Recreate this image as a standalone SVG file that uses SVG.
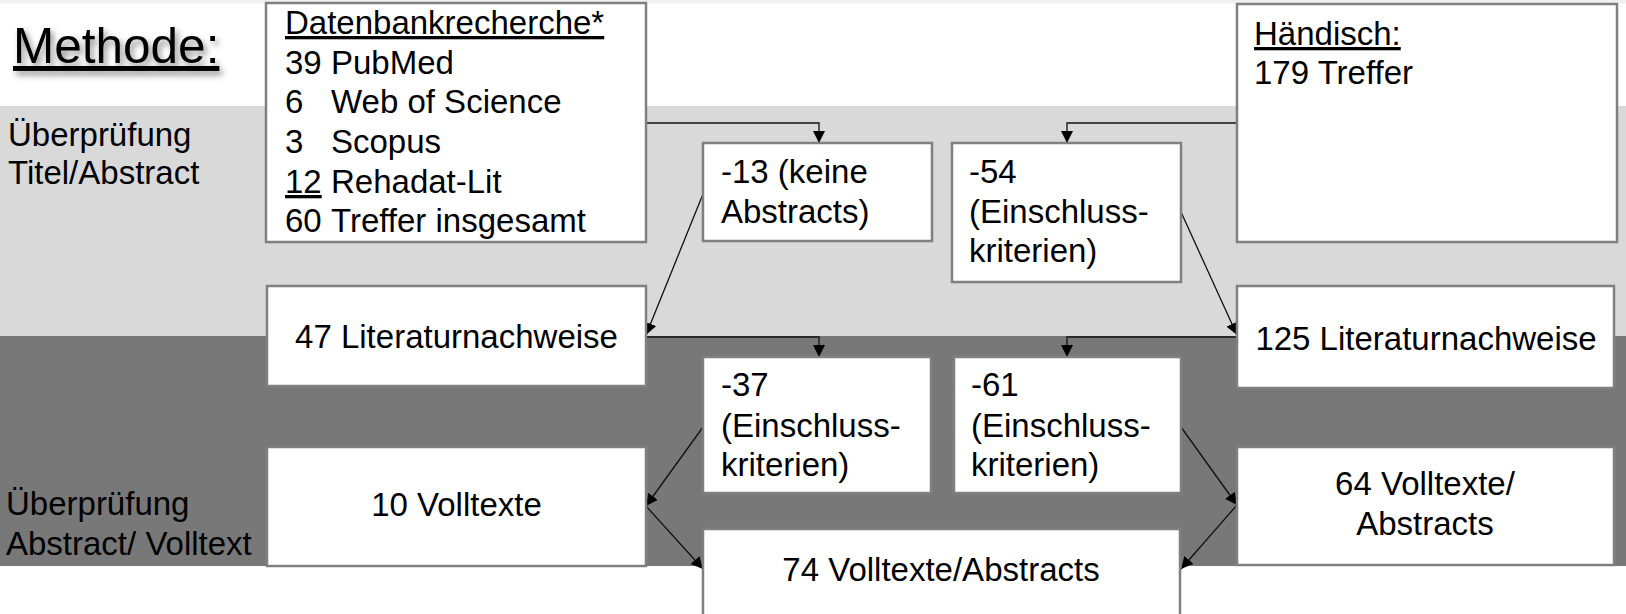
<svg xmlns="http://www.w3.org/2000/svg" width="1626" height="614" viewBox="0 0 1626 614">
<style>
text{font-family:"Liberation Sans",Arial,sans-serif;font-size:33px;fill:#000}
.box{fill:#fff;stroke:#808080;stroke-width:2.5}
.c{text-anchor:middle}
.u{text-decoration:underline}
.con{fill:none;stroke:#111;stroke-width:1.3}
</style>
<defs>
<marker id="arr" viewBox="0 0 12 12" refX="12" refY="6" markerWidth="12" markerHeight="12" markerUnits="userSpaceOnUse" orient="auto">
<path d="M0,0 L12,6 L0,12 z" fill="#000"/>
</marker>
<filter id="sh" x="-10%" y="-20%" width="130%" height="160%">
<feDropShadow dx="3" dy="4" stdDeviation="3" flood-color="#000" flood-opacity="0.45"/>
</filter>
</defs>
<g id="background">
<rect x="0" y="0" width="1626" height="614" fill="#fff"/>
<rect x="0" y="0" width="1626" height="3.5" fill="#f0f0f0"/>
<rect x="0" y="106" width="1626" height="230" fill="#d9d9d9"/>
<rect x="0" y="336" width="1626" height="230" fill="#787878"/>
</g>
<g id="labels">
<text x="13" y="63" style="font-size:49.5px" class="u" filter="url(#sh)">Methode:</text>
<text x="8" y="146">Überprüfung</text>
<text x="8" y="184">Titel/Abstract</text>
<text x="6" y="515">Überprüfung</text>
<text x="6" y="555">Abstract/ Volltext</text>
</g>
<g id="connectors">
<path class="con" d="M646,123 H819 V143" marker-end="url(#arr)"/>
<path class="con" d="M1237,123 H1067 V143" marker-end="url(#arr)"/>
<path class="con" d="M703,194 L646,335" marker-end="url(#arr)"/>
<path class="con" d="M1181,212 L1237,335" marker-end="url(#arr)"/>
<path class="con" d="M646,337 H819 V357" marker-end="url(#arr)"/>
<path class="con" d="M1237,337 H1067 V357" marker-end="url(#arr)"/>
<path class="con" d="M703,427 L646,506" marker-end="url(#arr)"/>
<path class="con" d="M646,506 L703,569" marker-end="url(#arr)"/>
<path class="con" d="M1181,427 L1237,505" marker-end="url(#arr)"/>
<path class="con" d="M1237,505 L1181,569" marker-end="url(#arr)"/>
</g>
<g id="datenbank">
<rect class="box" x="266" y="3" width="380" height="239"/>
<text x="285" y="34" class="u">Datenbankrecherche*</text>
<text x="285" y="74">39<tspan x="331">PubMed</tspan></text>
<text x="285" y="113">6<tspan x="331">Web of Science</tspan></text>
<text x="285" y="153">3<tspan x="331">Scopus</tspan></text>
<text x="285" y="193"><tspan class="u">12</tspan><tspan x="331">Rehadat-Lit</tspan></text>
<text x="285" y="232">60<tspan x="331">Treffer insgesamt</tspan></text>
</g>
<g id="haendisch">
<rect class="box" x="1237" y="4" width="380" height="238"/>
<text x="1254" y="45" class="u">Händisch:</text>
<text x="1254" y="84">179 Treffer</text>
</g>
<g id="minus13">
<rect class="box" x="703" y="143" width="229" height="98"/>
<text x="721" y="183">-13 (keine</text>
<text x="721" y="223">Abstracts)</text>
</g>
<g id="minus54">
<rect class="box" x="952" y="143" width="229" height="139"/>
<text x="969" y="183">-54</text>
<text x="969" y="223">(Einschluss-</text>
<text x="969" y="262">kriterien)</text>
</g>
<g id="lit47">
<rect class="box" x="267" y="286" width="379" height="100"/>
<text x="456.5" y="348" class="c">47 Literaturnachweise</text>
</g>
<g id="lit125">
<rect class="box" x="1237" y="286" width="377" height="102"/>
<text x="1426" y="350" class="c">125 Literaturnachweise</text>
</g>
<g id="minus37">
<rect class="box" x="703" y="357" width="228" height="136" stroke="#787878"/>
<text x="721" y="396">-37</text>
<text x="721" y="437">(Einschluss-</text>
<text x="721" y="476">kriterien)</text>
</g>
<g id="minus61">
<rect class="box" x="954" y="357" width="227" height="136"/>
<text x="971" y="396">-61</text>
<text x="971" y="437">(Einschluss-</text>
<text x="971" y="476">kriterien)</text>
</g>
<g id="volltexte10">
<rect class="box" x="267" y="447" width="379" height="119"/>
<text x="456.5" y="516" class="c">10 Volltexte</text>
</g>
<g id="volltexte64">
<rect class="box" x="1237" y="447" width="377" height="118"/>
<text x="1425" y="495" class="c">64 Volltexte/</text>
<text x="1425" y="535" class="c">Abstracts</text>
</g>
<g id="volltexte74">
<rect class="box" x="703" y="529" width="477" height="90"/>
<text x="941" y="581" class="c">74 Volltexte/Abstracts</text>
</g>
</svg>
